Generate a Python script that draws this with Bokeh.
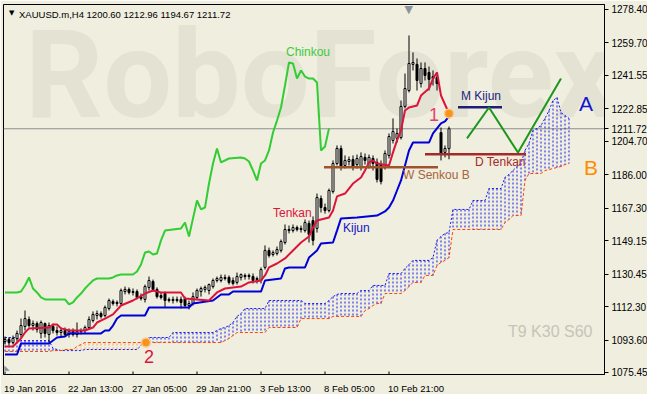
import numpy as np
from bokeh.plotting import figure
from bokeh.models import Range1d, FixedTicker, Label, Span, ColumnDataSource
from bokeh.embed import file_html
from bokeh.resources import INLINE

# ---------------- data ----------------
x_tick_bars = [0, 16, 32, 48, 64, 80, 96]
x_tick_labels = ["19 Jan 2016", "22 Jan 13:00", "27 Jan 05:00", "29 Jan 21:00",
                 "3 Feb 13:00", "8 Feb 05:00", "10 Feb 21:00"]
y_ticks = [1075.45, 1093.60, 1112.30, 1130.45, 1149.15, 1167.30,
           1186.00, 1204.70, 1222.85, 1241.55, 1259.70, 1278.40]
y_tick_labels = ["1075.45", "1093.60", "1112.30", "1130.45", "1149.15", "1167.30",
                 "1186.00", "1204.70", "1222.85", "1241.55", "1259.70", "1278.40"]

open_ = [1092.8, 1093.9, 1092.2, 1094.5, 1096.7, 1101.2, 1105.1, 1101.7, 1102.8, 1097.3,
         1102.8, 1096.7, 1101.2, 1098.9, 1097.8, 1098.9, 1096.7, 1098.4, 1096.7, 1098.4,
         1098.9, 1100.6, 1104.5, 1107.3, 1108.4, 1107.3, 1111.2, 1115.1, 1114.0, 1114.0,
         1120.7, 1121.9, 1120.2, 1120.7, 1117.9, 1116.3, 1123.0, 1126.3, 1121.9, 1118.5,
         1119.6, 1116.3, 1115.7, 1116.3, 1116.3, 1116.8, 1112.9, 1114.0, 1117.4, 1120.7,
         1121.9, 1121.3, 1123.5, 1126.9, 1126.9, 1128.6, 1128.6, 1126.9, 1125.8, 1128.6,
         1129.1, 1129.7, 1129.1, 1127.4, 1126.9, 1134.2, 1143.7, 1141.4, 1142.0, 1143.7,
         1148.1, 1155.4, 1154.8, 1156.5, 1155.4, 1154.8, 1158.8, 1160.4, 1156.0, 1172.7,
         1167.7, 1166.0, 1176.6, 1192.3, 1200.7, 1191.2, 1193.4, 1194.5, 1191.7, 1190.6,
         1195.7, 1190.6, 1195.1, 1192.9, 1191.7, 1190.6, 1196.8, 1205.2, 1206.3, 1206.8,
         1224.2, 1233.1, 1247.7, 1247.7, 1237.0, 1245.4, 1243.2, 1240.9, 1240.4, 1209.6,
         1198.5, 1200.60]
high = [1095.6, 1095.0, 1096.1, 1098.9, 1105.6, 1110.1, 1106.8, 1104.5, 1104.0, 1104.5,
        1103.4, 1103.4, 1102.8, 1101.2, 1100.6, 1100.6, 1100.1, 1100.1, 1103.4, 1100.1,
        1101.7, 1106.8, 1109.6, 1110.1, 1109.6, 1112.9, 1116.8, 1116.3, 1115.7, 1122.4,
        1123.5, 1123.0, 1122.4, 1121.9, 1119.6, 1124.6, 1129.1, 1127.4, 1123.0, 1120.2,
        1120.7, 1117.4, 1117.9, 1117.9, 1117.9, 1117.9, 1115.7, 1120.2, 1122.4, 1123.5,
        1124.1, 1125.2, 1128.0, 1129.1, 1130.2, 1130.2, 1129.7, 1128.6, 1131.3, 1130.8,
        1130.8, 1130.8, 1130.8, 1129.1, 1134.2, 1146.5, 1145.3, 1143.7, 1145.9, 1149.8,
        1158.2, 1157.6, 1158.2, 1157.6, 1157.6, 1161.0, 1160.4, 1162.7, 1175.5, 1174.4,
        1169.9, 1178.3, 1194.0, 1202.4, 1202.4, 1196.8, 1196.2, 1196.8, 1197.3, 1198.5,
        1197.9, 1197.3, 1196.8, 1195.1, 1194.0, 1199.6, 1209.1, 1217.5, 1211.9, 1227.5,
        1242.6, 1263.9, 1254.4, 1251.0, 1248.8, 1248.8, 1246.5, 1244.3, 1243.2, 1212.4,
        1202.4, 1212.96]
low = [1091.1, 1090.5, 1091.1, 1092.8, 1095.0, 1098.9, 1100.6, 1098.9, 1097.8, 1094.5,
       1095.0, 1092.2, 1097.3, 1096.1, 1095.6, 1095.6, 1095.0, 1095.6, 1095.0, 1096.7,
       1097.3, 1099.5, 1103.4, 1105.1, 1105.6, 1106.2, 1110.1, 1112.9, 1112.4, 1112.9,
       1119.1, 1119.1, 1118.5, 1116.3, 1115.7, 1114.6, 1121.3, 1120.7, 1116.8, 1116.3,
       1111.8, 1114.6, 1114.0, 1114.6, 1111.2, 1111.8, 1110.7, 1112.9, 1116.3, 1117.9,
       1120.2, 1119.1, 1122.4, 1125.8, 1125.8, 1126.9, 1124.6, 1124.1, 1124.6, 1126.9,
       1127.4, 1127.4, 1125.2, 1125.2, 1125.2, 1133.0, 1139.7, 1140.3, 1140.9, 1142.5,
       1147.0, 1153.2, 1153.7, 1154.3, 1153.7, 1153.7, 1148.1, 1146.5, 1153.7, 1164.9,
       1164.3, 1164.9, 1175.5, 1191.2, 1188.4, 1189.5, 1191.2, 1188.4, 1189.5, 1188.4,
       1191.7, 1189.5, 1188.4, 1181.7, 1180.6, 1188.9, 1195.1, 1203.5, 1204.0, 1205.7,
       1223.1, 1232.0, 1244.3, 1233.1, 1234.8, 1238.7, 1233.1, 1235.9, 1233.1, 1194.0,
       1195.7, 1194.67]
close = [1093.9, 1092.2, 1094.5, 1097.3, 1101.7, 1105.6, 1101.7, 1102.8, 1099.5, 1103.4,
         1097.3, 1101.7, 1098.9, 1097.8, 1098.9, 1096.7, 1098.4, 1096.7, 1098.4, 1098.9,
         1100.6, 1105.1, 1107.9, 1108.4, 1106.8, 1111.8, 1115.7, 1114.0, 1114.6, 1121.3,
         1121.9, 1120.2, 1120.7, 1117.4, 1116.8, 1123.5, 1126.9, 1121.9, 1117.9, 1117.4,
         1115.7, 1115.7, 1116.3, 1115.7, 1114.6, 1112.9, 1114.0, 1117.9, 1121.3, 1122.4,
         1123.0, 1124.6, 1126.9, 1128.0, 1128.6, 1128.0, 1125.8, 1125.2, 1129.1, 1130.2,
         1129.7, 1129.1, 1126.9, 1128.0, 1133.0, 1143.7, 1140.9, 1142.5, 1144.2, 1148.7,
         1155.4, 1154.8, 1156.5, 1155.4, 1156.0, 1159.3, 1152.6, 1149.3, 1173.3, 1167.7,
         1166.0, 1177.2, 1192.3, 1200.7, 1190.6, 1194.0, 1194.5, 1190.6, 1195.1, 1196.2,
         1194.0, 1195.7, 1192.3, 1183.4, 1182.2, 1197.9, 1207.4, 1210.2, 1209.1, 1224.2,
         1234.2, 1248.2, 1248.8, 1238.7, 1245.4, 1241.5, 1239.3, 1239.8, 1237.0, 1197.9,
         1200.7, 1211.72]

tenkan_bar = [0, 2, 4, 5, 6, 11, 12, 13, 14, 16, 20, 22, 23, 25, 27, 29, 32, 35, 37, 39,
              44, 45, 51, 52, 53, 55, 59, 61, 64, 65, 66, 68, 70, 72, 74, 76, 77, 78, 81, 82,
              83, 85, 87, 89, 90, 91, 92, 93, 96, 97, 98, 99, 100, 101, 103, 104, 106, 107,
              108, 109, 110, 111]
tenkan = [1090.0, 1090.0, 1094.5, 1097.8, 1100.1, 1100.6, 1102.3, 1102.3, 1100.1, 1098.9,
          1098.9, 1100.6, 1103.4, 1105.6, 1107.9, 1112.9, 1115.7, 1119.6, 1121.3, 1120.2,
          1120.2, 1116.8, 1115.7, 1117.9, 1120.2, 1122.4, 1123.5, 1125.8, 1126.9, 1129.7,
          1134.2, 1136.4, 1139.2, 1143.7, 1148.1, 1151.5, 1156.5, 1160.4, 1162.1, 1166.0,
          1173.9, 1175.5, 1181.1, 1184.5, 1188.4, 1192.9, 1194.0, 1192.3, 1191.2, 1198.5,
          1205.2, 1210.8, 1221.9, 1223.6, 1224.7, 1230.3, 1234.2, 1239.8, 1243.2, 1230.3,
          1225.3, 1220.3]

kijun_bar = [0, 3, 4, 11, 13, 15, 16, 24, 25, 26, 27, 28, 29, 35, 36, 46, 47, 52, 53, 54,
             56, 57, 64, 65, 69, 70, 71, 75, 76, 78, 79, 82, 83, 84, 88, 93, 95, 96, 97, 98,
             99, 100, 101, 102, 106, 107, 108, 109, 110, 111]
kijun = [1085.5, 1085.5, 1091.7, 1091.7, 1095.0, 1095.6, 1097.3, 1097.3, 1098.9, 1098.9,
         1101.7, 1105.6, 1107.3, 1107.3, 1111.8, 1111.8, 1114.0, 1115.7, 1117.4, 1119.1,
         1119.1, 1120.7, 1120.7, 1126.9, 1128.0, 1133.6, 1134.2, 1134.2, 1139.7, 1143.7,
         1147.6, 1148.1, 1154.8, 1161.6, 1162.1, 1163.2, 1165.5, 1167.7, 1171.6, 1177.2,
         1182.8, 1191.2, 1199.6, 1204.0, 1204.0, 1209.1, 1211.9, 1214.7, 1215.8, 1218.6]

chinkou_bar = [0, 3, 4, 5, 6, 7, 8, 9, 10, 15, 16, 17, 18, 19, 20, 21, 22, 23, 26, 27,
               28, 29, 32, 33, 34, 35, 36, 37, 38, 39, 40, 44, 45, 46, 47, 48, 49, 50, 51, 52,
               53, 54, 56, 59, 60, 61, 62, 63, 64, 65, 66, 67, 68, 69, 70, 71, 72, 73, 74, 75,
               76, 77, 78, 79, 80, 81]
chinkou = [1120.2, 1120.2, 1120.7, 1124.1, 1128.6, 1122.4, 1120.2, 1117.4, 1116.3, 1116.3,
           1113.5, 1114.6, 1117.4, 1119.6, 1122.4, 1124.7, 1126.9, 1128.0, 1128.0, 1128.6,
           1129.7, 1130.2, 1130.2, 1131.9, 1135.8, 1142.5, 1143.1, 1141.4, 1142.0, 1149.3,
           1154.8, 1156.0, 1159.3, 1151.5, 1161.6, 1171.6, 1166.6, 1167.7, 1181.1, 1192.3,
           1200.7, 1192.9, 1195.1, 1195.7, 1195.1, 1193.4, 1188.4, 1182.8, 1192.3, 1194.0,
           1199.6, 1209.6, 1216.3, 1223.6, 1235.9, 1248.8, 1248.2, 1239.8, 1244.3, 1240.9,
           1239.8, 1239.8, 1237.6, 1199.6, 1201.8, 1211.9]

senkou_a = ([1095.0] * 4 + [1093.3] * 8 + [1088.9, 1088.3] + [1087.7] * 6 + [1088.3] * 14 +
            [1090.5, 1092.8] + [1095.0] * 6 + [1097.8] * 11 +
            [1098.9, 1100.1, 1100.6, 1101.7, 1103.4, 1106.8, 1108.4] + [1111.2] * 6 +
            [1115.7] * 9 + [1114.0] * 6 + [1115.7, 1117.9, 1119.1] + [1119.6] * 5 +
            [1121.3] * 3 + [1124.1] * 4 + [1130.8] * 4 + [1133.6, 1135.8] + [1138.1] * 5 +
            [1139.7] + [1149.3, 1151.5, 1153.2, 1153.7] + [1166.6] * 5 + [1171.6] * 4 +
            [1178.3] * 4 + [1184.5, 1186.2, 1188.4, 1190.6, 1192.3] +
            [1199.6, 1203.5, 1210.8, 1211.9, 1213.5, 1217.5, 1221.9, 1227.5, 1229.2,
             1220.8, 1219.1, 1217.5])
senkou_b = ([1087.2] * 12 + [1087.7] * 3 + [1088.3] * 3 + [1090.0, 1091.1] + [1092.2] * 35 +
            [1093.3, 1094.5, 1096.1] + [1097.8] * 8 + [1100.6] * 8 + [1105.6] * 8 +
            [1106.8] * 8 + [1110.1, 1111.2, 1112.9, 1114.0, 1114.0] + [1119.6] * 5 +
            [1121.3, 1123.5] + [1125.8] * 3 + [1129.7] * 3 +
            [1135.3, 1137.0, 1138.1, 1139.7] + [1155.4] * 13 + [1159.3, 1161.0] +
            [1163.2] * 3 + [1182.8] + [1186.7] * 4 +
            [1188.4, 1188.9, 1189.5, 1190.1, 1190.6, 1191.7, 1192.3])

level_price = [1190.2, 1197.5, 1223.8]
level_start = [79.75, 105.0, 113.25]
level_end = [108.25, 130.25, 124.25]
level_colors = ["#A0522D", "#A52A2A", "#1E1E78"]

forecast_bar = [115.5, 121.0, 128.25, 139.0]
forecast_price = [1206.3, 1223.6, 1198.4, 1239.8]

cross_bar = [35.25, 111.0]
cross_price = [1092.2, 1220.3]

last_price = 1211.72
last_price_label = "1211.72"

# ---------------- figure ----------------
BG = "#EFEEDF"
FONT = "Liberation Sans"
FW, FH = 601, 370
XMIN, XMAX = -0.375, 149.875
YMIN, YMAX = 1074.33, 1281.19

p = figure(frame_width=FW, frame_height=FH, output_backend="svg", toolbar_location=None,
           x_range=Range1d(XMIN, XMAX), y_range=Range1d(YMIN, YMAX),
           x_axis_location="below", y_axis_location="right",
           min_border_left=3, min_border_top=4, min_border_right=43, min_border_bottom=20)
p.background_fill_color = BG
p.border_fill_color = BG
p.outline_line_color = "black"
p.outline_line_width = 1
p.xgrid.visible = False
p.ygrid.visible = False

# watermark
p.add_layout(Label(x=5.0, y=1241.5, text="RoboForex", text_font="Roboto",
                   text_font_style="bold", text_font_size="122px",
                   text_color="#E3E2D3", text_baseline="alphabetic", level="underlay"))

# current price line
p.add_layout(Span(location=last_price, dimension="width", line_color="#8E8E8E",
                  line_width=1, level="underlay"))

# cloud hatch
cb = list(range(len(senkou_a)))
hatch_col = ["#1A1AF0" if a >= b else "#F4A460" for a, b in zip(senkou_a, senkou_b)]
p.segment(x0=cb, y0=senkou_a, x1=cb, y1=senkou_b, line_color=hatch_col,
          line_width=1, line_dash="2 2")
p.line(cb, senkou_a, line_color="#1A1AF0", line_width=1, line_dash="2 2")
p.line(cb, senkou_b, line_color="#FF4500", line_width=1, line_dash="3 2")

# candles
bars = list(range(len(close)))
top = np.maximum(open_, close)
bot = np.minimum(open_, close)
fill = ["white" if c >= o else "black" for o, c in zip(open_, close)]
src = ColumnDataSource(dict(x=bars, h=high, l=low, t=top, b=bot, f=fill))
p.segment(x0="x", y0="h", x1="x", y1="l", source=src, line_color="black", line_width=1)
p.vbar(x="x", top="t", bottom="b", width=0.5, fill_color="f", line_color="black",
       line_width=1, source=src)

# ichimoku lines
p.line(chinkou_bar, chinkou, line_color="#32CD32", line_width=2)
p.line(kijun_bar, kijun, line_color="#0000D8", line_width=2)
p.line(tenkan_bar, tenkan, line_color="#DC143C", line_width=2)

# levels
for pr, s, e, c in zip(level_price, level_start, level_end, level_colors):
    p.line([s, e], [pr, pr], line_color=c, line_width=2.5)

# forecast zigzag
p.line(forecast_bar, forecast_price, line_color="#1E961E", line_width=2)

# cross markers
p.scatter(cross_bar, cross_price, size=9, fill_color="#F7941D", line_color="#FBC98A",
          line_width=1.5)

# texts
texts = [
    ("Chinkou", 70.25, 1254.9, "#3CCB3C", "12px"),
    ("Tenkan", 67.0, 1164.9, "#DC143C", "12px"),
    ("Kijun", 84.5, 1156.5, "#1414C8", "12px"),
    ("W Senkou B", 99.5, 1185.6, "#A9643A", "12px"),
    ("D Tenkan", 117.5, 1193.4, "#A52A2A", "12px"),
    ("M Kijun", 114.0, 1229.8, "#23237F", "12px"),
    ("1", 106.0, 1219.7, "#E4406E", "18px"),
    ("2", 34.75, 1084.4, "#DC143C", "18px"),
    ("A", 143.5, 1225.8, "#1515D0", "21px"),
    ("B", 144.75, 1190.1, "#FF8C00", "21px"),
    ("T9 K30 S60", 125.75, 1098.4, "#C8C4B6", "16px"),
]
for t, x, y, c, s in texts:
    p.add_layout(Label(x=x, y=y, text=t, text_color=c, text_font=FONT,
                       text_font_size=s, text_baseline="alphabetic"))

# title and chart icons
p.add_layout(Label(x=1.0, y=1276.2, text="\u25BC", text_color="black", text_font="DejaVu Sans",
                   text_font_size="7px", text_baseline="alphabetic"))
p.add_layout(Label(x=3.5, y=1275.8, text="XAUUSD.m,H4  1200.60 1212.96 1194.67 1211.72",
                   text_color="black", text_font=FONT, text_font_size="9.5px",
                   text_baseline="alphabetic"))
p.add_layout(Label(x=99.9, y=1278.4, text="\u25BC", text_color="#8A929A", text_font="DejaVu Sans",
                   text_font_size="11px", text_baseline="alphabetic"))
p.add_layout(Label(x=-0.2, y=1078.0, text="\u25E3", text_color="#8A929A", text_font="DejaVu Sans",
                   text_font_size="7px", text_baseline="alphabetic"))

# right axis (with the last price shown on it)
ya = p.yaxis[0]
ya.ticker = FixedTicker(ticks=y_ticks + [last_price])
ya.major_label_overrides = dict(zip(y_ticks + [last_price], y_tick_labels + [last_price_label]))
ya.minor_tick_line_color = None
ya.major_tick_out = 4
ya.major_tick_in = 0
ya.major_label_standoff = 3
ya.major_label_text_font = FONT
ya.major_label_text_font_size = "10px"
ya.major_label_text_color = "black"
ya.axis_line_color = "black"
ya.major_tick_line_color = "black"

# bottom axis: labels start at their tick (MT4 style); label centres from text width
CW = {" ": 0.278, ":": 0.278, "J": 0.5, "F": 0.611, "a": 0.556, "n": 0.556, "e": 0.556, "b": 0.556}
XFS = 9.5
bar_px = FW / (XMAX - XMIN)
x_label_pos = [round(b - 1.0 / bar_px + sum(CW.get(ch, 0.556) for ch in s) * XFS / 2 / bar_px, 4)
               for b, s in zip(x_tick_bars, x_tick_labels)]
xa = p.xaxis[0]
xa.ticker = FixedTicker(ticks=x_label_pos)
xa.major_label_overrides = dict(zip(x_label_pos, x_tick_labels))
xa.minor_tick_line_color = None
xa.major_tick_line_color = None
xa.major_label_standoff = 2
xa.major_label_text_font = FONT
xa.major_label_text_font_size = "9.5px"
xa.major_label_text_color = "black"
xa.axis_line_color = "black"
tick_len = 3 * (YMAX - YMIN) / FH
p.segment(x0=x_tick_bars, y0=[YMIN] * len(x_tick_bars), x1=x_tick_bars,
          y1=[YMIN + tick_len] * len(x_tick_bars), line_color="black", line_width=1)

open("out.html", "w").write(file_html(p, INLINE))
